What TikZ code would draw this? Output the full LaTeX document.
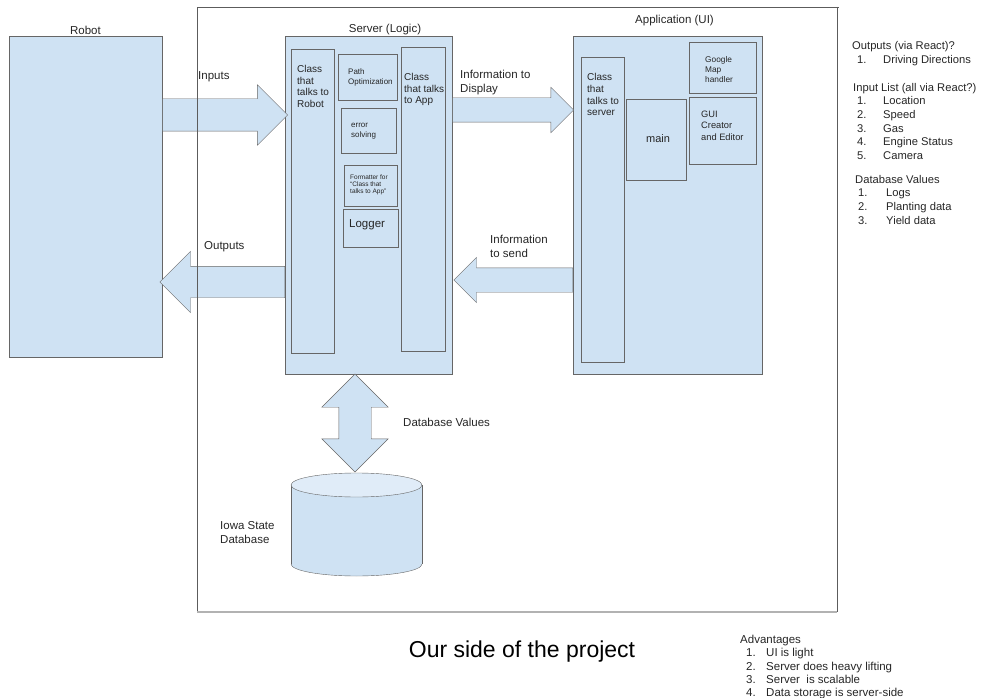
\documentclass[tikz,border=0pt]{standalone}
\usepackage{fontspec}
\setmainfont{Liberation Sans}
\usetikzlibrary{shapes.arrows}
\definecolor{boxblue}{HTML}{CFE2F3}
\definecolor{dbtop}{HTML}{E0ECF8}
\definecolor{edgegray}{HTML}{666666}
\definecolor{textgray}{HTML}{262626}
\newcommand{\fs}[2]{\fontsize{#1}{#2}\selectfont}
\newcommand{\itm}[3]{\hspace*{#1pt}\makebox[#2pt][l]{#3}}
\begin{document}
\begin{tikzpicture}[x=1pt,y=-1pt,%
        box/.style={draw=edgegray,fill=boxblue,inner sep=0,anchor=north west},
        blockarrow/.style={single arrow,draw=edgegray,fill=boxblue,inner xsep=0,
            single arrow tip angle=90},
        dblarrow/.style={double arrow,draw=edgegray,fill=boxblue,inner xsep=0,
            double arrow tip angle=90},
        txt/.style={inner sep=0,align=left,text=textgray,anchor=north west},
        lbl/.style={inner sep=0,text=textgray,font=\fs{11.5}{14}}
    ]
    \useasboundingbox (0,0) rectangle (983,698);
    % main blocks
    \node[box,minimum width=153,minimum height=321] (robot) at (9,36) {};
    \node[box,minimum width=167,minimum height=338] (server) at (285,36) {};
    \node[box,minimum width=189,minimum height=338] (app) at (573,36) {};
    \node[lbl] (robotlbl) at (85.5,30) {Robot};
    \node[lbl] (serverlbl) at (385,30) {Server (Logic)};
    \node[lbl] (applbl) at (674.5,21) {Application (UI)};
    % server parts
    \node[box,minimum width=43,minimum height=304] (robotclass) at (291,49) {};
    \node[box,minimum width=59,minimum height=46] (pathopt) at (338,54) {};
    \node[box,minimum width=55,minimum height=45] (errsolve) at (341,108) {};
    \node[box,minimum width=53,minimum height=41] (formatter) at (344,165) {};
    \node[box,minimum width=55,minimum height=38] (logger) at (343,209) {};
    \node[box,minimum width=44,minimum height=304] (appclass) at (401,47) {};
    \node[txt,font=\fs{10}{11.5}] at (297,65.3) {Class\\that\\talks to\\Robot};
    \node[txt,font=\fs{8}{10}] at (348,69) {Path\\Optimization};
    \node[txt,font=\fs{8}{10}] at (351,122.8) {error\\solving};
    \node[txt,font=\fs{6.5}{7}] at (350,174.6) {Formatter for\\“Class that\\talks to App”};
    \node[txt,anchor=west,font=\fs{11.5}{14}] at (349,225) {Logger};
    \node[txt,font=\fs{10}{11.5}] at (404,73.3) {Class\\that talks\\to App};
    % application parts
    \node[box,minimum width=43,minimum height=305] (serverclass) at (581,57) {};
    \node[box,minimum width=60,minimum height=81] (mainbox) at (626,99) {};
    \node[box,minimum width=67,minimum height=51] (maphandler) at (689,42) {};
    \node[box,minimum width=67,minimum height=67] (guieditor) at (689,97) {};
    \node[txt,font=\fs{10}{11.7}] at (587,73.3) {Class\\that\\talks to\\server};
    \node[txt,anchor=west,font=\fs{11}{13}] at (646,139) {main};
    \node[txt,font=\fs{8.3}{10}] at (705,55.9) {Google\\Map\\handler};
    \node[txt,font=\fs{9.3}{11.5}] at (701,110.6) {GUI\\Creator\\and Editor};
    % arrows between blocks
    \node[blockarrow,minimum height=125,inner ysep=16,single arrow head extend=14,
        anchor=tail] (inputs) at (robot.east |- 0,115) {};
    \node[blockarrow,minimum height=121,inner ysep=12,single arrow head extend=10.5,
        anchor=tail] (todisplay) at (server.east |- 0,110) {};
    \node[blockarrow,rotate=180,minimum height=119,inner ysep=12,
        single arrow head extend=10.5,anchor=tail] (tosend) at (app.west |- 0,280) {};
    \node[blockarrow,rotate=180,minimum height=125,inner ysep=15.5,
        single arrow head extend=15,anchor=tail] (outputs) at (server.west |- 0,282) {};
    \node[dblarrow,rotate=90,minimum height=98,inner ysep=16,
        double arrow head extend=17] (dbvalues) at (355,423) {};
    \node[lbl,anchor=west] at (198,77) {Inputs};
    \node[txt,font=\fs{11.5}{14}] at (460,69.7) {Information to\\Display};
    \node[lbl,anchor=west] at (204,247) {Outputs};
    \node[txt,font=\fs{11.5}{14}] at (490,234.7) {Information\\to send};
    \node[lbl,anchor=west] at (403,422) {Database Values};
    % database
    \coordinate (db) at (356.5,485);
    \fill[boxblue] (291,485) rectangle (422,564);
    \fill[boxblue] (356.5,564) ellipse [x radius=65.5,y radius=12];
    \draw[edgegray] (291,485) -- (291,564) (422,485) -- (422,564);
    \begin{scope}
        \clip (285,564) rectangle (430,580);
        \draw[edgegray] (356.5,564) ellipse [x radius=65.5,y radius=12];
    \end{scope}
    \draw[edgegray,fill=dbtop] (db) ellipse [x radius=65.5,y radius=12];
    \node[txt,font=\fs{11.5}{13.5}] at (220,521.7) {Iowa State\\Database};
    % frame round our part
    \draw[edgegray!90!black] (197,612) -- (197,7) -- (839,7);
    \draw[edgegray!90!black] (837,7) -- (837,612);
    \draw[black!30,line width=2.5] (197,612) -- (837,612);
    % notes
    \node[txt,font=\fs{11.2}{13.8}] at (852,40.9)
        {Outputs (via React)?\\\itm{5}{26}{1.}Driving Directions};
    \node[txt,font=\fs{11.2}{13.6}] at (853,82.9)
        {Input List (all via React?)\\\itm{4}{26}{1.}Location\\\itm{4}{26}{2.}Speed\\
         \itm{4}{26}{3.}Gas\\\itm{4}{26}{4.}Engine Status\\\itm{4}{26}{5.}Camera};
    \node[txt,font=\fs{11.2}{13.6}] at (855,174.9)
        {Database Values\\\itm{3}{28}{1.}Logs\\\itm{3}{28}{2.}Planting data\\
         \itm{3}{28}{3.}Yield data};
    \node[inner sep=0,font=\fs{23}{27}] (title) at (522,652) {Our side of the project};
    \node[txt,font=\fs{11.5}{13.3}] at (740,634.9)
        {Advantages\\\itm{6}{20}{1.}UI is light\\\itm{6}{20}{2.}Server does heavy lifting\\
         \itm{6}{20}{3.}Server\ \ is scalable\\\itm{6}{20}{4.}Data storage is server-side};
\end{tikzpicture}
\end{document}
